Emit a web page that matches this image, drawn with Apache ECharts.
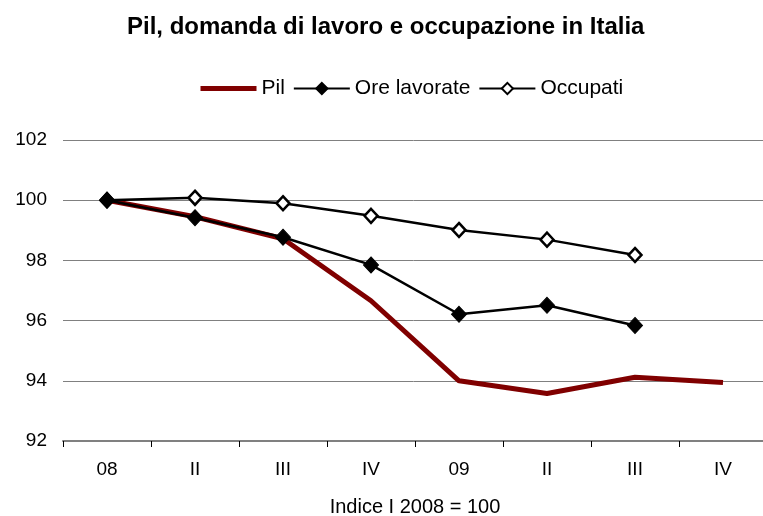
<!DOCTYPE html>
<html>
<head>
<meta charset="utf-8">
<script src="https://cdn.jsdelivr.net/npm/echarts@6/dist/echarts.min.js"></script>
<style>
html,body{margin:0;padding:0;background:#fff;}
#chart{width:763px;height:516px;}
</style>
</head>
<body>
<div id="chart"></div>
<script>
const categories = ['08', 'II', 'III', 'IV', '09', 'II', 'III', 'IV'];
const pil = [100, 99.45, 98.72, 96.66, 94.0, 93.58, 94.12, 93.94];
const oreLavorate = [100, 99.42, 98.77, 97.85, 96.21, 96.51, 95.84, null];
const occupati = [100, 100.08, 99.9, 99.48, 99.01, 98.69, 98.18, null];
const yMin = 92, yMax = 102, yStep = 2;

const FONT = '"Liberation Sans", Arial, sans-serif';
const chart = echarts.init(document.getElementById('chart'), null, {renderer: 'canvas'});
chart.setOption({
  animation: false,
  backgroundColor: '#ffffff',
  title: {
    text: 'Pil, domanda di lavoro e occupazione in Italia',
    left: 127,
    top: 15,
    padding: 0,
    textStyle: {fontFamily: FONT, fontSize: 24, fontWeight: 'bold', color: '#000'}
  },
  legend: {
    left: 193,
    top: 73,
    itemWidth: 56,
    itemHeight: 14,
    itemGap: 8,
    textStyle: {fontFamily: FONT, fontSize: 21, color: '#000'},
    data: [
      {name: 'Pil', lineStyle: {width: 5, color: '#800000'}, itemStyle: {opacity: 0}},
      {name: 'Ore lavorate', lineStyle: {width: 2}},
      {name: 'Occupati', lineStyle: {width: 2}}
    ]
  },
  grid: {left: 63, top: 140, right: -4, bottom: 75, containLabel: false, outerBoundsMode: 'none'},
  xAxis: {
    type: 'category',
    data: categories,
    boundaryGap: true,
    name: 'Indice I 2008 = 100',
    nameLocation: 'middle',
    nameGap: 56,
    nameTextStyle: {fontFamily: FONT, fontSize: 20, color: '#000'},
    axisLine: {lineStyle: {color: '#808080', width: 2}},
    axisTick: {show: true, length: 6, inside: false, lineStyle: {color: '#000', width: 1}},
    axisLabel: {fontFamily: FONT, fontSize: 19, color: '#000', margin: 19},
    splitLine: {show: false}
  },
  yAxis: {
    type: 'value',
    min: yMin,
    max: yMax,
    interval: yStep,
    axisLine: {show: false},
    axisTick: {show: false},
    axisLabel: {fontFamily: FONT, fontSize: 19, color: '#000', margin: 16},
    splitLine: {lineStyle: {color: '#808080', width: 1}}
  },
  series: [
    {
      name: 'Pil',
      type: 'line',
      data: pil,
      symbol: 'none',
      lineStyle: {color: '#800000', width: 5},
      itemStyle: {color: '#800000'},
      z: 1
    },
    {
      name: 'Ore lavorate',
      type: 'line',
      data: oreLavorate,
      symbol: 'diamond',
      symbolSize: [15, 16],
      showSymbol: true,
      lineStyle: {color: '#000', width: 2.5},
      itemStyle: {color: '#000', borderColor: '#000', borderWidth: 1},
      z: 3
    },
    {
      name: 'Occupati',
      type: 'line',
      data: occupati,
      symbol: 'diamond',
      symbolSize: [13, 14],
      showSymbol: true,
      lineStyle: {color: '#000', width: 2.5},
      itemStyle: {color: '#fff', borderColor: '#000', borderWidth: 2.5},
      z: 2
    }
  ]
});
</script>
</body>
</html>
